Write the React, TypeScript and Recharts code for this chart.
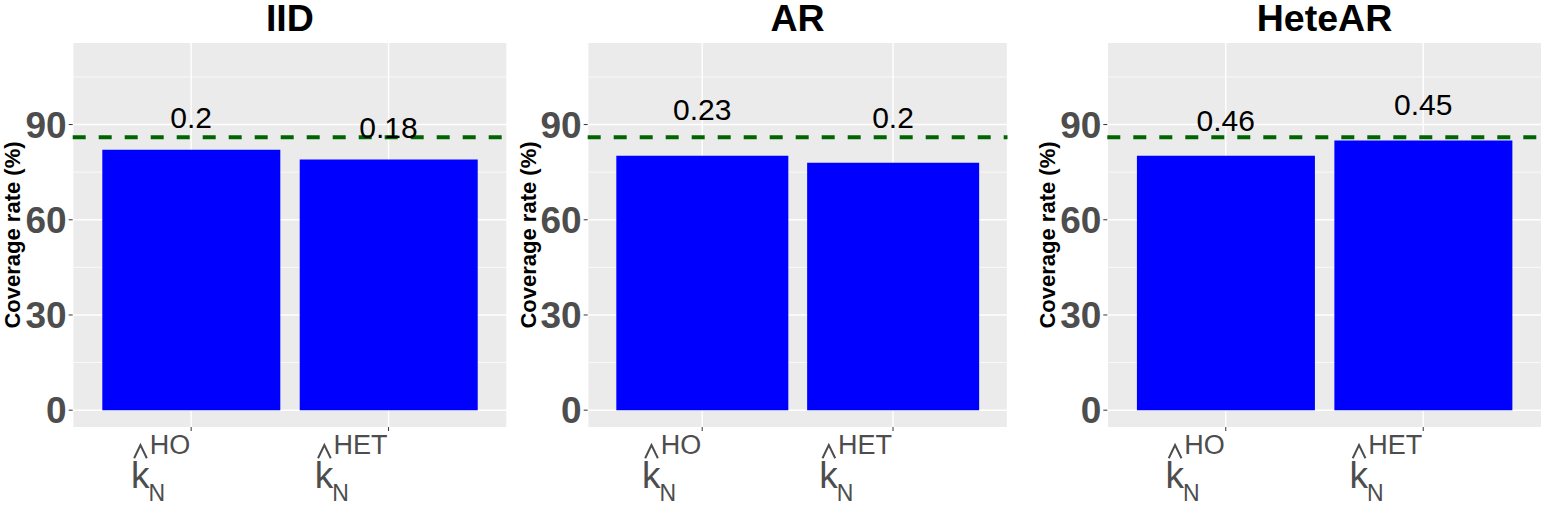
import { ComposedChart, Bar, Line, XAxis, YAxis, CartesianGrid, ReferenceLine, LabelList, Label } from 'recharts';

// values
const categories = ['HO', 'HET'];

const iidCoverage = [82.1, 79.0];
const arCoverage = [80.2, 78.0];
const heteArCoverage = [80.2, 85.0];

const iidNotes = ['0.2', '0.18'];
const arNotes = ['0.23', '0.2'];
const heteArNotes = ['0.46', '0.45'];

// height (in %) where each note is printed
const iidNoteY = [92.3, 89.3];
const arNoteY = [94.7, 92.4];
const heteArNoteY = [91.5, 96.3];

const nominalLevel = 86;
const yTicks = [0, 30, 60, 90];
const yMinorTicks = [15, 45, 75, 105];
const yDomain: [number, number] = [-5.3, 115.7];

const FONT = '"Liberation Sans", Arial, sans-serif';
const TEXT_GREY = '#4D4D4D';
const CHART_H = 505;
const TOP = 43;
const X_AXIS_H = 78;

const buildRows = (values: number[], notes: string[], noteY: number[]) =>
  categories.map((name, i) => ({ name, value: values[i], note: notes[i], noteY: noteY[i] }));

const panels = [
  { title: 'IID', rows: buildRows(iidCoverage, iidNotes, iidNoteY), left: 0, width: 510, axisWidth: 72.7, right: 3, labelX: 12 },
  { title: 'AR', rows: buildRows(arCoverage, arNotes, arNoteY), left: 510, width: 500, axisWidth: 77.7, right: 2.5, labelX: 18 },
  { title: 'HeteAR', rows: buildRows(heteArCoverage, heteArNotes, heteArNoteY), left: 1010, width: 535, axisWidth: 97.3, right: 3.3, labelX: 37.2 },
];

// Arial advance widths for the superscript letters
const supWidths: Record<string, number> = { H: 0.722, O: 0.778, E: 0.667, T: 0.611 };
const SUP_SIZE = 27;

function KTick(props: any) {
  const { x, y, payload } = props;
  const base = y - 4;
  const sup = String(payload.value);
  const supW = sup.split('').reduce((s, ch) => s + (supWidths[ch] ?? 0.6), 0) * SUP_SIZE;
  const supX = x - 1 - supW;
  const kx = supX - 18.7;
  return (
    <g fontFamily={FONT} fill={TEXT_GREY}>
      <polyline
        points={`${kx + 3.2},${base + 31.3} ${kx + 9.5},${base + 18} ${kx + 15.9},${base + 31.3}`}
        fill="none"
        stroke={TEXT_GREY}
        strokeWidth={2}
      />
      <text x={kx} y={base + 61.3} fontSize={37}>k</text>
      <text x={kx + 17.5} y={base + 74.2} fontSize={23}>N</text>
      <text x={supX} y={base + 27} fontSize={SUP_SIZE}>{sup}</text>
    </g>
  );
}

function NoteLabel(props: any) {
  const { x, y, value } = props;
  return (
    <text x={x} y={y + 0.358 * 30} textAnchor="middle" fontSize={30} fontFamily={FONT} fill="#000">
      {value}
    </text>
  );
}

const yAxisTitle = (labelX: number) => (props: any) => {
  const vb = props.viewBox || {};
  const cx = (vb.x ?? 0) + labelX;
  const cy = vb.y != null && vb.height != null ? vb.y + vb.height / 2 : TOP + 192;
  return (
    <text
      x={cx}
      y={cy}
      transform={`rotate(-90 ${cx} ${cy})`}
      textAnchor="middle"
      dominantBaseline="central"
      fontSize={22}
      fontWeight="bold"
      fontFamily={FONT}
      fill="#000"
    >
      Coverage rate (%)
    </text>
  );
};

function Panel({ p }: { p: (typeof panels)[number] }) {
  const plotW = p.width - p.axisWidth - p.right;
  const pad = plotW / 22;
  return (
    <div style={{ position: 'absolute', left: p.left, top: 0, width: p.width, height: CHART_H }}>
      <div
        style={{
          position: 'absolute',
          top: 0,
          left: p.axisWidth + plotW / 2 - 150,
          width: 300,
          textAlign: 'center',
          fontSize: 37.5,
          lineHeight: '37.5px',
          fontWeight: 'bold',
          fontFamily: FONT,
          color: '#000',
        }}
      >
        {p.title}
      </div>
      <ComposedChart
        width={p.width}
        height={CHART_H}
        data={p.rows}
        margin={{ top: TOP, right: p.right, bottom: 0, left: 0 }}
        barCategoryGap="5%"
      >
        <CartesianGrid
          fill="#EBEBEB"
          stroke="#FFFFFF"
          strokeWidth={0.7}
          vertical={false}
          horizontalValues={yMinorTicks}
        />
        <CartesianGrid stroke="#FFFFFF" strokeWidth={1.4} horizontalValues={yTicks} />
        <XAxis
          dataKey="name"
          type="category"
          interval={0}
          padding={{ left: pad, right: pad }}
          axisLine={false}
          tickLine={{ stroke: '#333333' }}
          tickSize={4}
          tickMargin={0}
          height={X_AXIS_H}
          tick={<KTick />}
        />
        <YAxis
          type="number"
          domain={yDomain}
          ticks={yTicks}
          interval={0}
          allowDataOverflow
          axisLine={false}
          tickLine={{ stroke: '#333333' }}
          tickSize={4}
          tickMargin={2}
          width={p.axisWidth}
          tick={{ fontSize: 37, fontWeight: 'bold', fill: TEXT_GREY, fontFamily: FONT }}
        >
          <Label content={yAxisTitle(p.labelX)} />
        </YAxis>
        <Bar dataKey="value" fill="#0000FF" isAnimationActive={false} />
        <Line
          dataKey="noteY"
          stroke="none"
          dot={false}
          activeDot={false}
          legendType="none"
          isAnimationActive={false}
        >
          <LabelList dataKey="note" content={<NoteLabel />} />
        </Line>
        <ReferenceLine y={nominalLevel} stroke="#006400" strokeWidth={4} strokeDasharray="13 13" />
      </ComposedChart>
    </div>
  );
}

export default function App() {
  return (
    <div style={{ position: 'absolute', left: 0, top: 0, width: 1545, height: CHART_H, background: '#fff' }}>
      {panels.map((p) => (
        <Panel key={p.title} p={p} />
      ))}
    </div>
  );
}
